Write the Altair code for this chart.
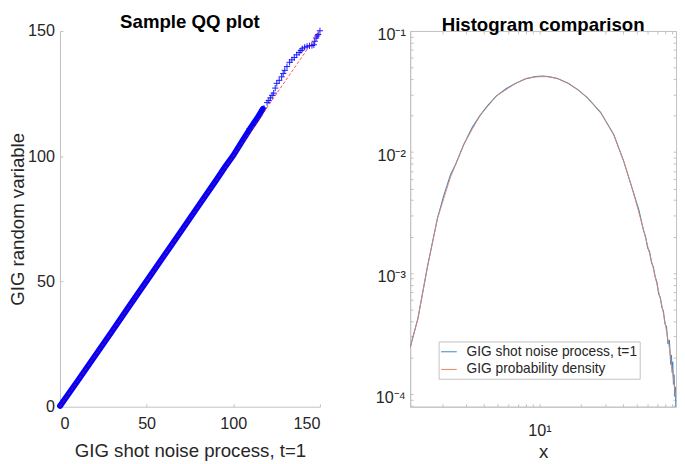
import altair as alt
import pandas as pd

# ---------------- data ----------------
# Left panel: sample QQ plot
qq_band_x = [0, 10, 20, 30, 40, 50, 60, 70, 80, 90, 95, 100, 105, 110, 114, 117]
qq_band_y = [0.3, 10.1, 20.1, 30.1, 40.2, 50.2, 60.2, 70.2, 80.3, 90.3, 95.5, 100.3, 105.9, 111.3, 115.4, 118.9]

qq_tail_x = [109.4, 112.2, 115.0, 117.7, 119.5, 120.5, 121.4, 122.4, 123.3, 124.2,
             125.1, 126.5, 127.9, 128.8, 129.7, 131.0, 132.5, 133.8, 135.2, 136.6,
             138.0, 139.0, 139.8, 141.2, 142.6, 144.0, 145.4, 146.5, 147.0, 147.8,
             148.4, 149.0, 150.0]
qq_tail_y = [111.1, 113.6, 116.2, 119.2, 121.4, 122.2, 123.3, 124.3, 125.2, 127.2,
             129.1, 130.3, 131.7, 133.0, 134.3, 135.8, 137.5, 138.5, 139.4, 140.5,
             141.4, 142.2, 142.9, 143.5, 143.9, 144.1, 144.2, 144.5, 145.9, 147.2,
             148.0, 148.6, 150.1]

qq_ref_x = [0, 150]
qq_ref_y = [0, 150]

qq_ticks = [0, 50, 100, 150]

# Right panel: histogram comparison (log-log)
pdf_x = [1.18, 1.34, 1.57, 1.85, 2.3, 2.86, 3.74, 4.9, 6.78, 8.0, 9.37, 11.6, 13.5, 16.1,
         19.0, 22.2, 27.6, 34.3, 40.3, 47.5, 55.8, 65.6, 77.1, 86.0, 96.0]
pdf_y = [2.4e-4, 4.19e-4, 1.12e-3, 2.8e-3, 6.2e-3, 1.153e-2, 2.0e-2, 2.9e-2, 3.7e-2, 4.05e-2,
         4.18e-2, 4.2e-2, 4.05e-2, 3.7e-2, 3.25e-2, 2.8e-2, 2.13e-2, 1.386e-2, 8.5e-3, 4.6e-3,
         2.33e-3, 1.12e-3, 5.0e-4, 2.4e-4, 9.3e-5]

hist_x = [1.18, 1.34, 1.57, 1.85, 2.05, 2.3, 2.5, 2.86, 3.3, 3.74,
          4.3, 4.9, 5.8, 6.78, 8.0, 9.37, 10.5, 11.6, 13.5, 16.1,
          19.0, 22.2, 27.6, 34.3, 40.3, 47.5, 52, 55.8, 58, 60,
          62, 64, 66, 68, 70, 72, 74, 76, 78, 80,
          82, 84, 86, 88, 89, 90, 91, 92, 93, 94,
          95, 96]
hist_y = [2.45e-4, 4.2e-4, 1.13e-3, 2.82e-3, 4.3e-3, 6.5e-3, 7.9e-3, 1.15e-2, 1.6e-2, 2.0e-2,
          2.45e-2, 2.9e-2, 3.35e-2, 3.7e-2, 4.03e-2, 4.2e-2, 4.25e-2, 4.2e-2, 4.05e-2, 3.7e-2,
          3.26e-2, 2.8e-2, 2.12e-2, 1.39e-2, 8.45e-3, 4.62e-3, 3.3e-3, 2.3e-3, 2.0e-3, 1.62e-3,
          1.5e-3, 1.22e-3, 1.12e-3, 0.93e-3, 0.84e-3, 0.67e-3, 0.63e-3, 0.52e-3, 0.48e-3, 0.38e-3,
          0.36e-3, 0.26e-3, 0.28e-3, 0.175e-3, 0.21e-3, 0.15e-3, 0.185e-3, 0.12e-3, 0.145e-3, 0.095e-3,
          0.115e-3, 0.07e-3]

series_names = ["GIG shot noise process, t=1", "GIG probability density"]
series_colors = ["#2f89d2", "#e8845e"]

hx_domain = [1.18, 96.0]
hy_domain = [7.87e-5, 0.1]
hx_major = [10]
hx_major_text = ["10¹"]
hy_major = [1e-4, 1e-3, 1e-2, 1e-1]
hy_major_text = ["10⁻⁴", "10⁻³", "10⁻²", "10⁻¹"]
mantissas = [1, 2, 3, 4, 5, 6, 7, 8, 9]
hx_decades = [1, 10]
hy_decades = [1e-5, 1e-4, 1e-3, 1e-2, 1e-1]

# ---------------- styling ----------------
FONT = "Liberation Sans"
AX = "#c2c2c2"
TXT = "#262626"
TICK = 3
PW_L, PW_R, PH = 265, 271, 383

hx_minor = [round(m * d, 6) for d in hx_decades for m in mantissas
            if hx_domain[0] <= m * d <= hx_domain[1]]
hy_minor = [float("%.3g" % (m * d)) for d in hy_decades for m in mantissas
            if hy_domain[0] <= m * d <= hy_domain[1] * 1.0001]


def label_expr(values, texts):
    expr = "''"
    for v, t in zip(values, texts):
        expr = f"abs(datum.value - {v}) < {v} * 0.01 ? '{t}' : " + expr
    return expr


def main_axis(orient, values, title, **kw):
    return alt.Axis(orient=orient, values=values, offset=0, domain=True,
                    domainColor=AX, domainWidth=1, ticks=False, tickSize=0,
                    grid=False, labelFont=FONT, labelFontSize=16.5,
                    labelColor=TXT, title=title, titleFont=FONT,
                    titleFontSize=19, titleFontWeight="normal",
                    titleColor=TXT, **kw)


def tick_axis(orient, values, size=TICK):
    return alt.Axis(orient=orient, values=values, offset=-size, domain=False,
                    ticks=True, tickSize=size, tickColor=AX, tickWidth=1,
                    labels=False, grid=False, title="", minExtent=0)


def panel_title(text):
    return alt.TitleParams(text=text, font=FONT, fontSize=19, fontWeight="bold",
                           color="black", anchor="middle", frame="group", offset=-8.5)


# ---------------- left panel ----------------
band_df = pd.DataFrame({"x": qq_band_x, "y": qq_band_y})
tail_df = pd.DataFrame({"x": qq_tail_x, "y": qq_tail_y})
ref_df = pd.DataFrame({"x": qq_ref_x, "y": qq_ref_y})

qx = alt.Scale(domain=[0, 150], nice=False, zero=False)
qy = alt.Scale(domain=[0, 150], nice=False, zero=False)

band = alt.Chart(band_df).mark_line(color="#0000ff", strokeWidth=6, strokeCap="round").encode(
    x=alt.X("x:Q", scale=qx, axis=main_axis("bottom", qq_ticks, "GIG shot noise process, t=1",
                                              labelPadding=9.5, titlePadding=9.5)),
    y=alt.Y("y:Q", scale=qy, axis=main_axis("left", qq_ticks, "GIG random variable",
                                              labelPadding=5.7, titlePadding=4,
                                              titleBaseline="alphabetic")),
)
plus = alt.Chart(tail_df).mark_point(shape="M-1,0H1M0,-1V1", size=40, filled=False,
                                     color="#0000ff", strokeWidth=1, opacity=0.9).encode(
    x=alt.X("x:Q", scale=qx, axis=tick_axis("bottom", qq_ticks)),
    y=alt.Y("y:Q", scale=qy, axis=tick_axis("left", qq_ticks)),
)
ref = alt.Chart(ref_df).mark_line(color="#ff0000", strokeWidth=1, strokeDash=[3, 2],
                                  opacity=0.7).encode(
    x=alt.X("x:Q", scale=qx, axis=None),
    y=alt.Y("y:Q", scale=qy, axis=None),
)
left = alt.layer(band, plus, ref).resolve_axis(x="independent", y="independent").properties(
    width=PW_L, height=PH, title=panel_title("Sample QQ plot"),
    view=alt.ViewBackground(stroke=None))

# ---------------- right panel ----------------
hist_df = pd.DataFrame({"x": hist_x, "y": hist_y, "s": series_names[0]})
pdf_df = pd.DataFrame({"x": pdf_x, "y": pdf_y, "s": series_names[1]})

hx = alt.Scale(type="log", domain=hx_domain, nice=False)
hy = alt.Scale(type="log", domain=hy_domain, nice=False)

color_enc = alt.Color("s:N", scale=alt.Scale(domain=series_names, range=series_colors),
                      legend=alt.Legend(orient="none", legendX=386, legendY=316.5, title=None,
                                        padding=2, strokeColor=AX, fillColor="white",
                                        symbolType="stroke", symbolSize=256,
                                        symbolStrokeWidth=1, labelFont=FONT,
                                        labelFontSize=14, labelColor=TXT, labelOffset=9.5,
                                        labelLimit=400, rowPadding=2))

hist_line = alt.Chart(hist_df).mark_line(strokeWidth=1.1, clip=True).encode(
    x=alt.X("x:Q", scale=hx, axis=main_axis("bottom", hx_major, "x", labelPadding=16.5,
                                              titlePadding=3.5,
                                              labelExpr=label_expr(hx_major, hx_major_text))),
    y=alt.Y("y:Q", scale=hy, axis=main_axis("left", hy_major, "", labelPadding=5,
                                              labelOffset=4,
                                              labelExpr=label_expr(hy_major, hy_major_text))),
    color=color_enc,
)
pdf_line = alt.Chart(pdf_df).mark_line(strokeWidth=0.9, clip=True).encode(
    x=alt.X("x:Q", scale=hx, axis=tick_axis("bottom", hx_minor)),
    y=alt.Y("y:Q", scale=hy, axis=tick_axis("left", hy_minor)),
    color=color_enc,
)
frame_b = alt.Chart(pdf_df).mark_line(strokeOpacity=0, clip=True).encode(
    x=alt.X("x:Q", scale=hx, axis=tick_axis("top", hx_minor)),
    y=alt.Y("y:Q", scale=hy, axis=tick_axis("right", hy_minor)),
)
right = alt.layer(hist_line, pdf_line, frame_b).resolve_axis(
    x="independent", y="independent").properties(
    width=PW_R, height=PH, title=panel_title("Histogram comparison"),
    view=alt.ViewBackground(stroke=AX))

chart = alt.hconcat(left, right, spacing=49).properties(
    padding={"left": 0, "top": 0, "right": 0, "bottom": 0},
    background="white",
)

chart.save("out.html", embed_options={"renderer": "svg", "actions": False})
